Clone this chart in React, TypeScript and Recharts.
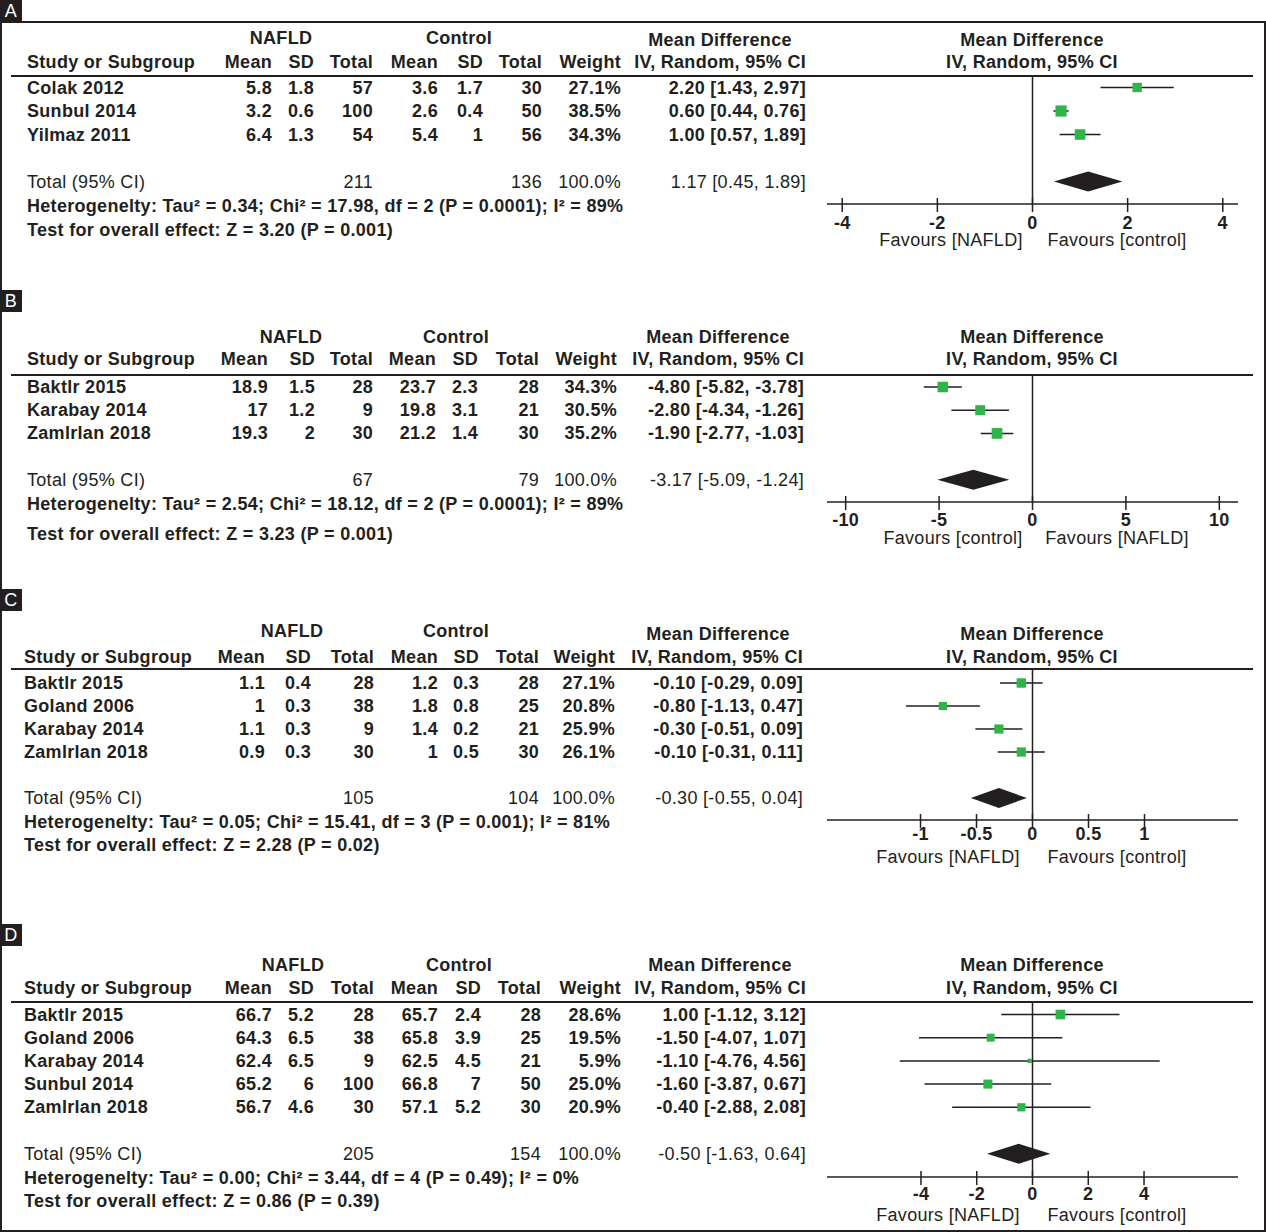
import React from 'react';
import { ComposedChart, Scatter, ErrorBar, Area, XAxis, YAxis, ReferenceLine } from 'recharts';

const INK = '#231f20';
const GREEN = '#2fb44a';
const FONT = '"Liberation Sans", Arial, Helvetica, sans-serif';
const DIAMOND_H = 0.43; // half height of the pooled diamond, in rows

const colHeads = ['Mean', 'SD', 'Total', 'Mean', 'SD', 'Total', 'Weight', 'IV, Random, 95% CI'];

// ---- Panel A ----
const studiesA = ['Colak 2012', 'Sunbul 2014', 'Yilmaz 2011'];
const nafldA = [[5.8, 1.8, 57], [3.2, 0.6, 100], [6.4, 1.3, 54]];
const controlA = [[3.6, 1.7, 30], [2.6, 0.4, 50], [5.4, 1, 56]];
const weightA = [27.1, 38.5, 34.3];
const mdA = [2.2, 0.6, 1.0];
const loA = [1.43, 0.44, 0.57];
const hiA = [2.97, 0.76, 1.43];
const ciTextA = ['2.20 [1.43, 2.97]', '0.60 [0.44, 0.76]', '1.00 [0.57, 1.89]'];
const totalsA = [211, 136];
const pooledA = [1.17, 0.45, 1.89];
const pooledTextA = '1.17 [0.45, 1.89]';
const statsA = [
  'Heterogenelty: Tau² = 0.34; Chi² = 17.98, df = 2 (P = 0.0001); I² = 89%',
  'Test for overall effect: Z = 3.20 (P = 0.001)',
];
const ticksA = [-4, -2, 0, 2, 4];
const favoursA = ['Favours [NAFLD]', 'Favours [control]'];

// ---- Panel B ----
const studiesB = ['Baktlr 2015', 'Karabay 2014', 'Zamlrlan 2018'];
const nafldB = [[18.9, 1.5, 28], [17, 1.2, 9], [19.3, 2, 30]];
const controlB = [[23.7, 2.3, 28], [19.8, 3.1, 21], [21.2, 1.4, 30]];
const weightB = [34.3, 30.5, 35.2];
const mdB = [-4.8, -2.8, -1.9];
const loB = [-5.82, -4.34, -2.77];
const hiB = [-3.78, -1.26, -1.03];
const ciTextB = ['-4.80 [-5.82, -3.78]', '-2.80 [-4.34, -1.26]', '-1.90 [-2.77, -1.03]'];
const totalsB = [67, 79];
const pooledB = [-3.17, -5.09, -1.24];
const pooledTextB = '-3.17 [-5.09, -1.24]';
const statsB = [
  'Heterogenelty: Tau² = 2.54; Chi² = 18.12, df = 2 (P = 0.0001); I² = 89%',
  'Test for overall effect: Z = 3.23 (P = 0.001)',
];
const ticksB = [-10, -5, 0, 5, 10];
const favoursB = ['Favours [control]', 'Favours [NAFLD]'];

// ---- Panel C ----
const studiesC = ['Baktlr 2015', 'Goland 2006', 'Karabay 2014', 'Zamlrlan 2018'];
const nafldC = [[1.1, 0.4, 28], [1, 0.3, 38], [1.1, 0.3, 9], [0.9, 0.3, 30]];
const controlC = [[1.2, 0.3, 28], [1.8, 0.8, 25], [1.4, 0.2, 21], [1, 0.5, 30]];
const weightC = [27.1, 20.8, 25.9, 26.1];
const mdC = [-0.1, -0.8, -0.3, -0.1];
const loC = [-0.29, -1.13, -0.51, -0.31];
const hiC = [0.09, -0.47, -0.09, 0.11];
const ciTextC = ['-0.10 [-0.29, 0.09]', '-0.80 [-1.13, 0.47]', '-0.30 [-0.51, 0.09]', '-0.10 [-0.31, 0.11]'];
const totalsC = [105, 104];
const pooledC = [-0.3, -0.55, -0.05];
const pooledTextC = '-0.30 [-0.55, 0.04]';
const statsC = [
  'Heterogenelty: Tau² = 0.05; Chi² = 15.41, df = 3 (P = 0.001); I² = 81%',
  'Test for overall effect: Z = 2.28 (P = 0.02)',
];
const ticksC = [-1, -0.5, 0, 0.5, 1];
const favoursC = ['Favours [NAFLD]', 'Favours [control]'];

// ---- Panel D ----
const studiesD = ['Baktlr 2015', 'Goland 2006', 'Karabay 2014', 'Sunbul 2014', 'Zamlrlan 2018'];
const nafldD = [[66.7, 5.2, 28], [64.3, 6.5, 38], [62.4, 6.5, 9], [65.2, 6, 100], [56.7, 4.6, 30]];
const controlD = [[65.7, 2.4, 28], [65.8, 3.9, 25], [62.5, 4.5, 21], [66.8, 7, 50], [57.1, 5.2, 30]];
const weightD = [28.6, 19.5, 5.9, 25.0, 20.9];
const mdD = [1.0, -1.5, -0.1, -1.6, -0.4];
const loD = [-1.12, -4.07, -4.76, -3.87, -2.88];
const hiD = [3.12, 1.07, 4.56, 0.67, 2.08];
const ciTextD = ['1.00 [-1.12, 3.12]', '-1.50 [-4.07, 1.07]', '-1.10 [-4.76, 4.56]', '-1.60 [-3.87, 0.67]', '-0.40 [-2.88, 2.08]'];
const totalsD = [205, 154];
const pooledD = [-0.5, -1.63, 0.64];
const pooledTextD = '-0.50 [-1.63, 0.64]';
const statsD = [
  'Heterogenelty: Tau² = 0.00; Chi² = 3.44, df = 4 (P = 0.49); I² = 0%',
  'Test for overall effect: Z = 0.86 (P = 0.39)',
];
const ticksD = [-4, -2, 0, 2, 4];
const favoursD = ['Favours [NAFLD]', 'Favours [control]'];

// page layout for each panel (pixels)
const layouts = [
  { top: 0, groupY: 38, mdY: 40, headY: 62, lineY: 76, rowY: 87.5, step: 23.5, statY: [206, 230], axisY: 204, tickDy: 18, favY: 240, left: 27, cols: [272, 314, 373, 438, 483, 542, 621, 806], groups: [281, 459, 720], span: 4.32, favX: [951, 1117] },
  { top: 290, groupY: 336.5, mdY: 337, headY: 359, lineY: 375, rowY: 387, step: 23.2, statY: [504, 534], axisY: 502, tickDy: 17, favY: 538, left: 27, cols: [268, 315, 373, 436, 478, 539, 617, 804], groups: [291, 456, 718], span: 11.0, favX: [953, 1117] },
  { top: 589, groupY: 631, mdY: 634, headY: 657, lineY: 669, rowY: 683, step: 23, statY: [822, 845], axisY: 820, tickDy: 13, favY: 857, left: 24, cols: [265, 311, 374, 438, 479, 539, 615, 803], groups: [292, 456, 718], span: 1.835, favX: [948, 1117] },
  { top: 924, groupY: 965, mdY: 965, headY: 988, lineY: 1002, rowY: 1014.5, step: 23.2, statY: [1178, 1201], axisY: 1177, tickDy: 16, favY: 1215, left: 24, cols: [272, 314, 374, 438, 481, 541, 621, 806], groups: [293, 459, 720], span: 7.37, favX: [948, 1117] },
];

const panels = [
  { label: 'A', studies: studiesA, nafld: nafldA, control: controlA, weight: weightA, md: mdA, lo: loA, hi: hiA, ciText: ciTextA, totals: totalsA, pooled: pooledA, pooledText: pooledTextA, stats: statsA, ticks: ticksA, favours: favoursA },
  { label: 'B', studies: studiesB, nafld: nafldB, control: controlB, weight: weightB, md: mdB, lo: loB, hi: hiB, ciText: ciTextB, totals: totalsB, pooled: pooledB, pooledText: pooledTextB, stats: statsB, ticks: ticksB, favours: favoursB },
  { label: 'C', studies: studiesC, nafld: nafldC, control: controlC, weight: weightC, md: mdC, lo: loC, hi: hiC, ciText: ciTextC, totals: totalsC, pooled: pooledC, pooledText: pooledTextC, stats: statsC, ticks: ticksC, favours: favoursC },
  { label: 'D', studies: studiesD, nafld: nafldD, control: controlD, weight: weightD, md: mdD, lo: loD, hi: hiD, ciText: ciTextD, totals: totalsD, pooled: pooledD, pooledText: pooledTextD, stats: statsD, ticks: ticksD, favours: favoursD },
];

function Txt({ x, y, align = 'left', bold = true, children }: any) {
  const shift = align === 'right' ? 'translateX(-100%)' : align === 'center' ? 'translateX(-50%)' : 'none';
  return (
    <div
      style={{
        position: 'absolute',
        left: x,
        top: y - 10,
        lineHeight: '20px',
        whiteSpace: 'nowrap',
        transform: shift,
        fontWeight: bold ? 700 : 400,
      }}
    >
      {children}
    </div>
  );
}

const Square = (props: any) => {
  const { cx, cy, payload } = props;
  const s = 1.8 * Math.sqrt(payload.weight);
  return <rect x={cx - s / 2} y={cy - s / 2} width={s} height={s} fill={GREEN} />;
};

function AxisTick({ x, payload, axisH, dy }: any) {
  return (
    <g>
      <line x1={x} x2={x} y1={axisH - 6} y2={axisH + 8} stroke={INK} strokeWidth={1.5} />
      <text x={x} y={axisH + dy + 6.5} textAnchor="middle" fill={INK} fontFamily={FONT} fontSize={18} fontWeight={700}>
        {payload.value}
      </text>
    </g>
  );
}

function ForestPlot({ p, L }: any) {
  const plotH = L.axisY - L.lineY;
  const n = p.studies.length;
  const pooledRow = n + 1;
  const yMin = -(L.rowY - L.lineY) / L.step;
  const yMax = yMin + plotH / L.step;

  const points = p.studies.map((_: string, i: number) => ({
    x: p.md[i],
    y: i,
    err: [p.md[i] - p.lo[i], p.hi[i] - p.md[i]],
    weight: p.weight[i],
  }));
  const diamond = [
    { x: p.pooled[1], d: [pooledRow, pooledRow] },
    { x: p.pooled[0], d: [pooledRow - DIAMOND_H, pooledRow + DIAMOND_H] },
    { x: p.pooled[2], d: [pooledRow, pooledRow] },
  ];

  return (
    <div style={{ position: 'absolute', left: 820, top: L.lineY }}>
      <ComposedChart width={446} height={plotH + 40} margin={{ top: 0, right: 28, bottom: 0, left: 7 }}>
        <XAxis
          type="number"
          dataKey="x"
          domain={[-L.span, L.span]}
          ticks={p.ticks}
          interval={0}
          allowDataOverflow
          height={40}
          axisLine={{ stroke: INK, strokeWidth: 1.5 }}
          tickLine={false}
          tick={(t: any) => <AxisTick {...t} axisH={plotH} dy={L.tickDy} />}
        />
        <YAxis type="number" dataKey="y" domain={[yMin, yMax]} reversed hide allowDataOverflow />
        <ReferenceLine x={0} stroke={INK} strokeWidth={1.5} />
        <Area
          data={diamond}
          dataKey="d"
          type="linear"
          fill={INK}
          fillOpacity={1}
          stroke="none"
          isAnimationActive={false}
          dot={false}
          activeDot={false}
        />
        <Scatter data={points} shape={<Square />} isAnimationActive={false}>
          <ErrorBar dataKey="err" direction="x" width={0} stroke={INK} strokeWidth={1.5} />
        </Scatter>
      </ComposedChart>
    </div>
  );
}

function Panel({ p, L }: any) {
  const rowY = (i: number) => L.rowY + i * L.step;
  const totalY = rowY(p.studies.length + 1);
  return (
    <>
      <div
        style={{
          position: 'absolute',
          left: 0,
          top: L.top,
          width: 22,
          height: 22,
          background: INK,
          color: '#fff',
          textAlign: 'center',
          lineHeight: '22px',
          fontSize: 18,
        }}
      >
        {p.label}
      </div>

      <Txt x={L.groups[0]} y={L.groupY} align="center">NAFLD</Txt>
      <Txt x={L.groups[1]} y={L.groupY} align="center">Control</Txt>
      <Txt x={L.groups[2]} y={L.mdY} align="center">Mean Difference</Txt>
      <Txt x={1032} y={L.mdY} align="center">Mean Difference</Txt>

      <Txt x={L.left} y={L.headY}>Study or Subgroup</Txt>
      {colHeads.map((h, c) => (
        <Txt key={c} x={L.cols[c]} y={L.headY} align="right">{h}</Txt>
      ))}
      <Txt x={1032} y={L.headY} align="center">IV, Random, 95% CI</Txt>

      <div style={{ position: 'absolute', left: 11, top: L.lineY - 1, width: 1242, height: 2, background: INK }} />

      {p.studies.map((s: string, i: number) => {
        const cells = [
          ...p.nafld[i].map(String),
          ...p.control[i].map(String),
          p.weight[i].toFixed(1) + '%',
          p.ciText[i],
        ];
        return (
          <React.Fragment key={s}>
            <Txt x={L.left} y={rowY(i)}>{s}</Txt>
            {cells.map((v: string, c: number) => (
              <Txt key={c} x={L.cols[c]} y={rowY(i)} align="right">{v}</Txt>
            ))}
          </React.Fragment>
        );
      })}

      <Txt x={L.left} y={totalY} bold={false}>Total (95% CI)</Txt>
      <Txt x={L.cols[2]} y={totalY} align="right" bold={false}>{p.totals[0]}</Txt>
      <Txt x={L.cols[5]} y={totalY} align="right" bold={false}>{p.totals[1]}</Txt>
      <Txt x={L.cols[6]} y={totalY} align="right" bold={false}>100.0%</Txt>
      <Txt x={L.cols[7]} y={totalY} align="right" bold={false}>{p.pooledText}</Txt>

      <Txt x={L.left} y={L.statY[0]}>{p.stats[0]}</Txt>
      <Txt x={L.left} y={L.statY[1]}>{p.stats[1]}</Txt>

      <ForestPlot p={p} L={L} />

      <Txt x={L.favX[0]} y={L.favY} align="center" bold={false}>{p.favours[0]}</Txt>
      <Txt x={L.favX[1]} y={L.favY} align="center" bold={false}>{p.favours[1]}</Txt>
    </>
  );
}

export default function App() {
  return (
    <div
      style={{
        position: 'absolute',
        left: 0,
        top: 0,
        width: 1266,
        height: 1232,
        background: '#fff',
        color: INK,
        fontFamily: FONT,
        fontSize: 18,
        letterSpacing: 0.3,
        overflow: 'hidden',
      }}
    >
      <div
        style={{
          position: 'absolute',
          left: 0,
          top: 21,
          width: 1266,
          height: 1211,
          boxSizing: 'border-box',
          border: `2px solid ${INK}`,
        }}
      />
      {panels.map((p, i) => (
        <Panel key={p.label} p={p} L={layouts[i]} />
      ))}
    </div>
  );
}
